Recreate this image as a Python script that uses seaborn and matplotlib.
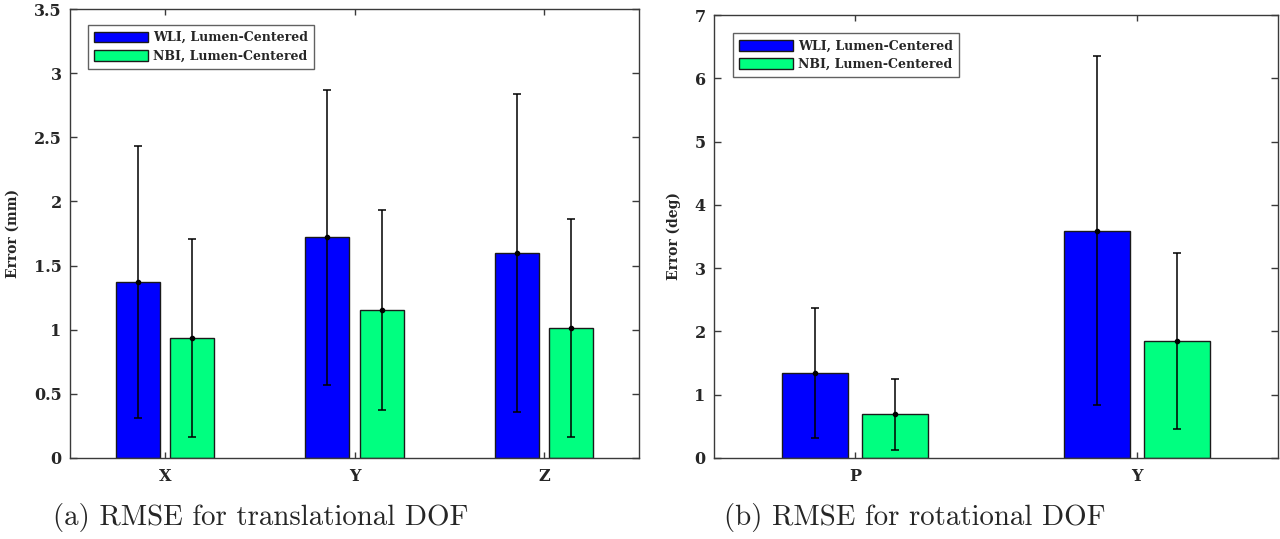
import matplotlib
matplotlib.use("Agg")
import matplotlib.pyplot as plt
from matplotlib.ticker import FuncFormatter
import seaborn as sns
import pandas as pd

# ---------------- data ----------------
series_names = ["WLI, Lumen-Centered", "NBI, Lumen-Centered"]
series_colors = ["#0000FF", "#00FF80"]

trans_cats = ["X", "Y", "Z"]
trans_wli = [1.375, 1.72, 1.597]
trans_wli_err = [1.06, 1.15, 1.24]
trans_nbi = [0.935, 1.153, 1.015]
trans_nbi_err = [0.77, 0.78, 0.85]

rot_cats = ["P", "Y"]
rot_wli = [1.34, 3.59]
rot_wli_err = [1.03, 2.76]
rot_nbi = [0.69, 1.855]
rot_nbi_err = [0.56, 1.39]

trans_yticks = [0, 0.5, 1, 1.5, 2, 2.5, 3, 3.5]
rot_yticks = [0, 1, 2, 3, 4, 5, 6, 7]

captions = ["(a) RMSE for translational DOF", "(b) RMSE for rotational DOF"]
ylabels = ["Error (mm)", "Error (deg)"]

# ---------------- style ----------------
sns.set_theme(style="white")
plt.rcParams["font.family"] = ["DejaVu Serif", "DejaVu Sans"]
plt.rcParams["font.weight"] = "bold"
SPINE = "#3a3a3a"

fig = plt.figure(figsize=(12.8, 5.39), dpi=100)
ax_l = fig.add_axes([70 / 1280, 1 - 458 / 539, (639 - 70) / 1280, (458 - 9) / 539])
ax_r = fig.add_axes([714 / 1280, 1 - 458 / 539, (1278 - 714) / 1280, (458 - 15) / 539])


def make_df(cats, wli, nbi):
    rows = []
    for c, v in zip(cats, wli):
        rows.append({"cat": c, "series": series_names[0], "val": v})
    for c, v in zip(cats, nbi):
        rows.append({"cat": c, "series": series_names[1], "val": v})
    return pd.DataFrame(rows)


def draw(ax, cats, wli, wli_err, nbi, nbi_err, yticks, ylabel, legend_anchor):
    df = make_df(cats, wli, nbi)
    sns.barplot(data=df, x="cat", y="val", hue="series", order=cats,
                hue_order=series_names, palette=series_colors, ax=ax,
                width=0.572, gap=0.185, errorbar=None, legend=False,
                edgecolor="#1a1a1a", linewidth=1.0, saturation=1)
    bar_containers = list(ax.containers)
    for cont, errs in zip(bar_containers, [wli_err, nbi_err]):
        xs = [b.get_x() + b.get_width() / 2 for b in cont]
        hs = [b.get_height() for b in cont]
        ax.errorbar(xs, hs, yerr=errs, fmt="o", ms=3, color="black",
                    ecolor="black", elinewidth=1.1, capsize=2.7, capthick=1.1,
                    zorder=5)
    ax.set_xlim(-0.5, len(cats) - 0.5)
    ax.set_ylim(yticks[0], yticks[-1])
    ax.set_yticks(yticks)
    ax.yaxis.set_major_formatter(FuncFormatter(lambda v, p: "%g" % v))
    ax.set_xlabel("")
    ax.set_ylabel(ylabel, fontsize=10, fontweight="bold", labelpad=10)
    ax.tick_params(axis="both", direction="in", length=5, width=1,
                   color=SPINE, labelsize=11.5, right=True, left=True,
                   bottom=True, top=True, pad=6)
    ax.tick_params(axis="x", length=4, pad=7)
    for lab in ax.get_xticklabels() + ax.get_yticklabels():
        lab.set_fontweight("bold")
    for sp in ax.spines.values():
        sp.set_visible(True)
        sp.set_color(SPINE)
        sp.set_linewidth(1.0)
    leg = ax.legend(bar_containers, series_names, loc="upper left",
                    bbox_to_anchor=legend_anchor, borderaxespad=0,
                    prop={"size": 9, "weight": "bold"}, frameon=True,
                    fancybox=False, handlelength=4.3, handleheight=0.95,
                    handletextpad=0.4, labelspacing=0.45, borderpad=0.5)
    leg.get_frame().set_edgecolor(SPINE)
    leg.get_frame().set_linewidth(1.0)
    leg.set_zorder(10)


draw(ax_l, trans_cats, trans_wli, trans_wli_err, trans_nbi, trans_nbi_err,
     trans_yticks, ylabels[0], (0.0316, 0.9644))
draw(ax_r, rot_cats, rot_wli, rot_wli_err, rot_nbi, rot_nbi_err,
     rot_yticks, ylabels[1], (0.0337, 0.959))

fig.text(53 / 1280, 1 - 517 / 539, captions[0], fontfamily="cmr10",
         fontsize=20.8, fontweight="normal", ha="left", va="center")
fig.text(724 / 1280, 1 - 517 / 539, captions[1], fontfamily="cmr10",
         fontsize=20.8, fontweight="normal", ha="left", va="center")

fig.savefig("out.png", dpi=100, facecolor="white")
